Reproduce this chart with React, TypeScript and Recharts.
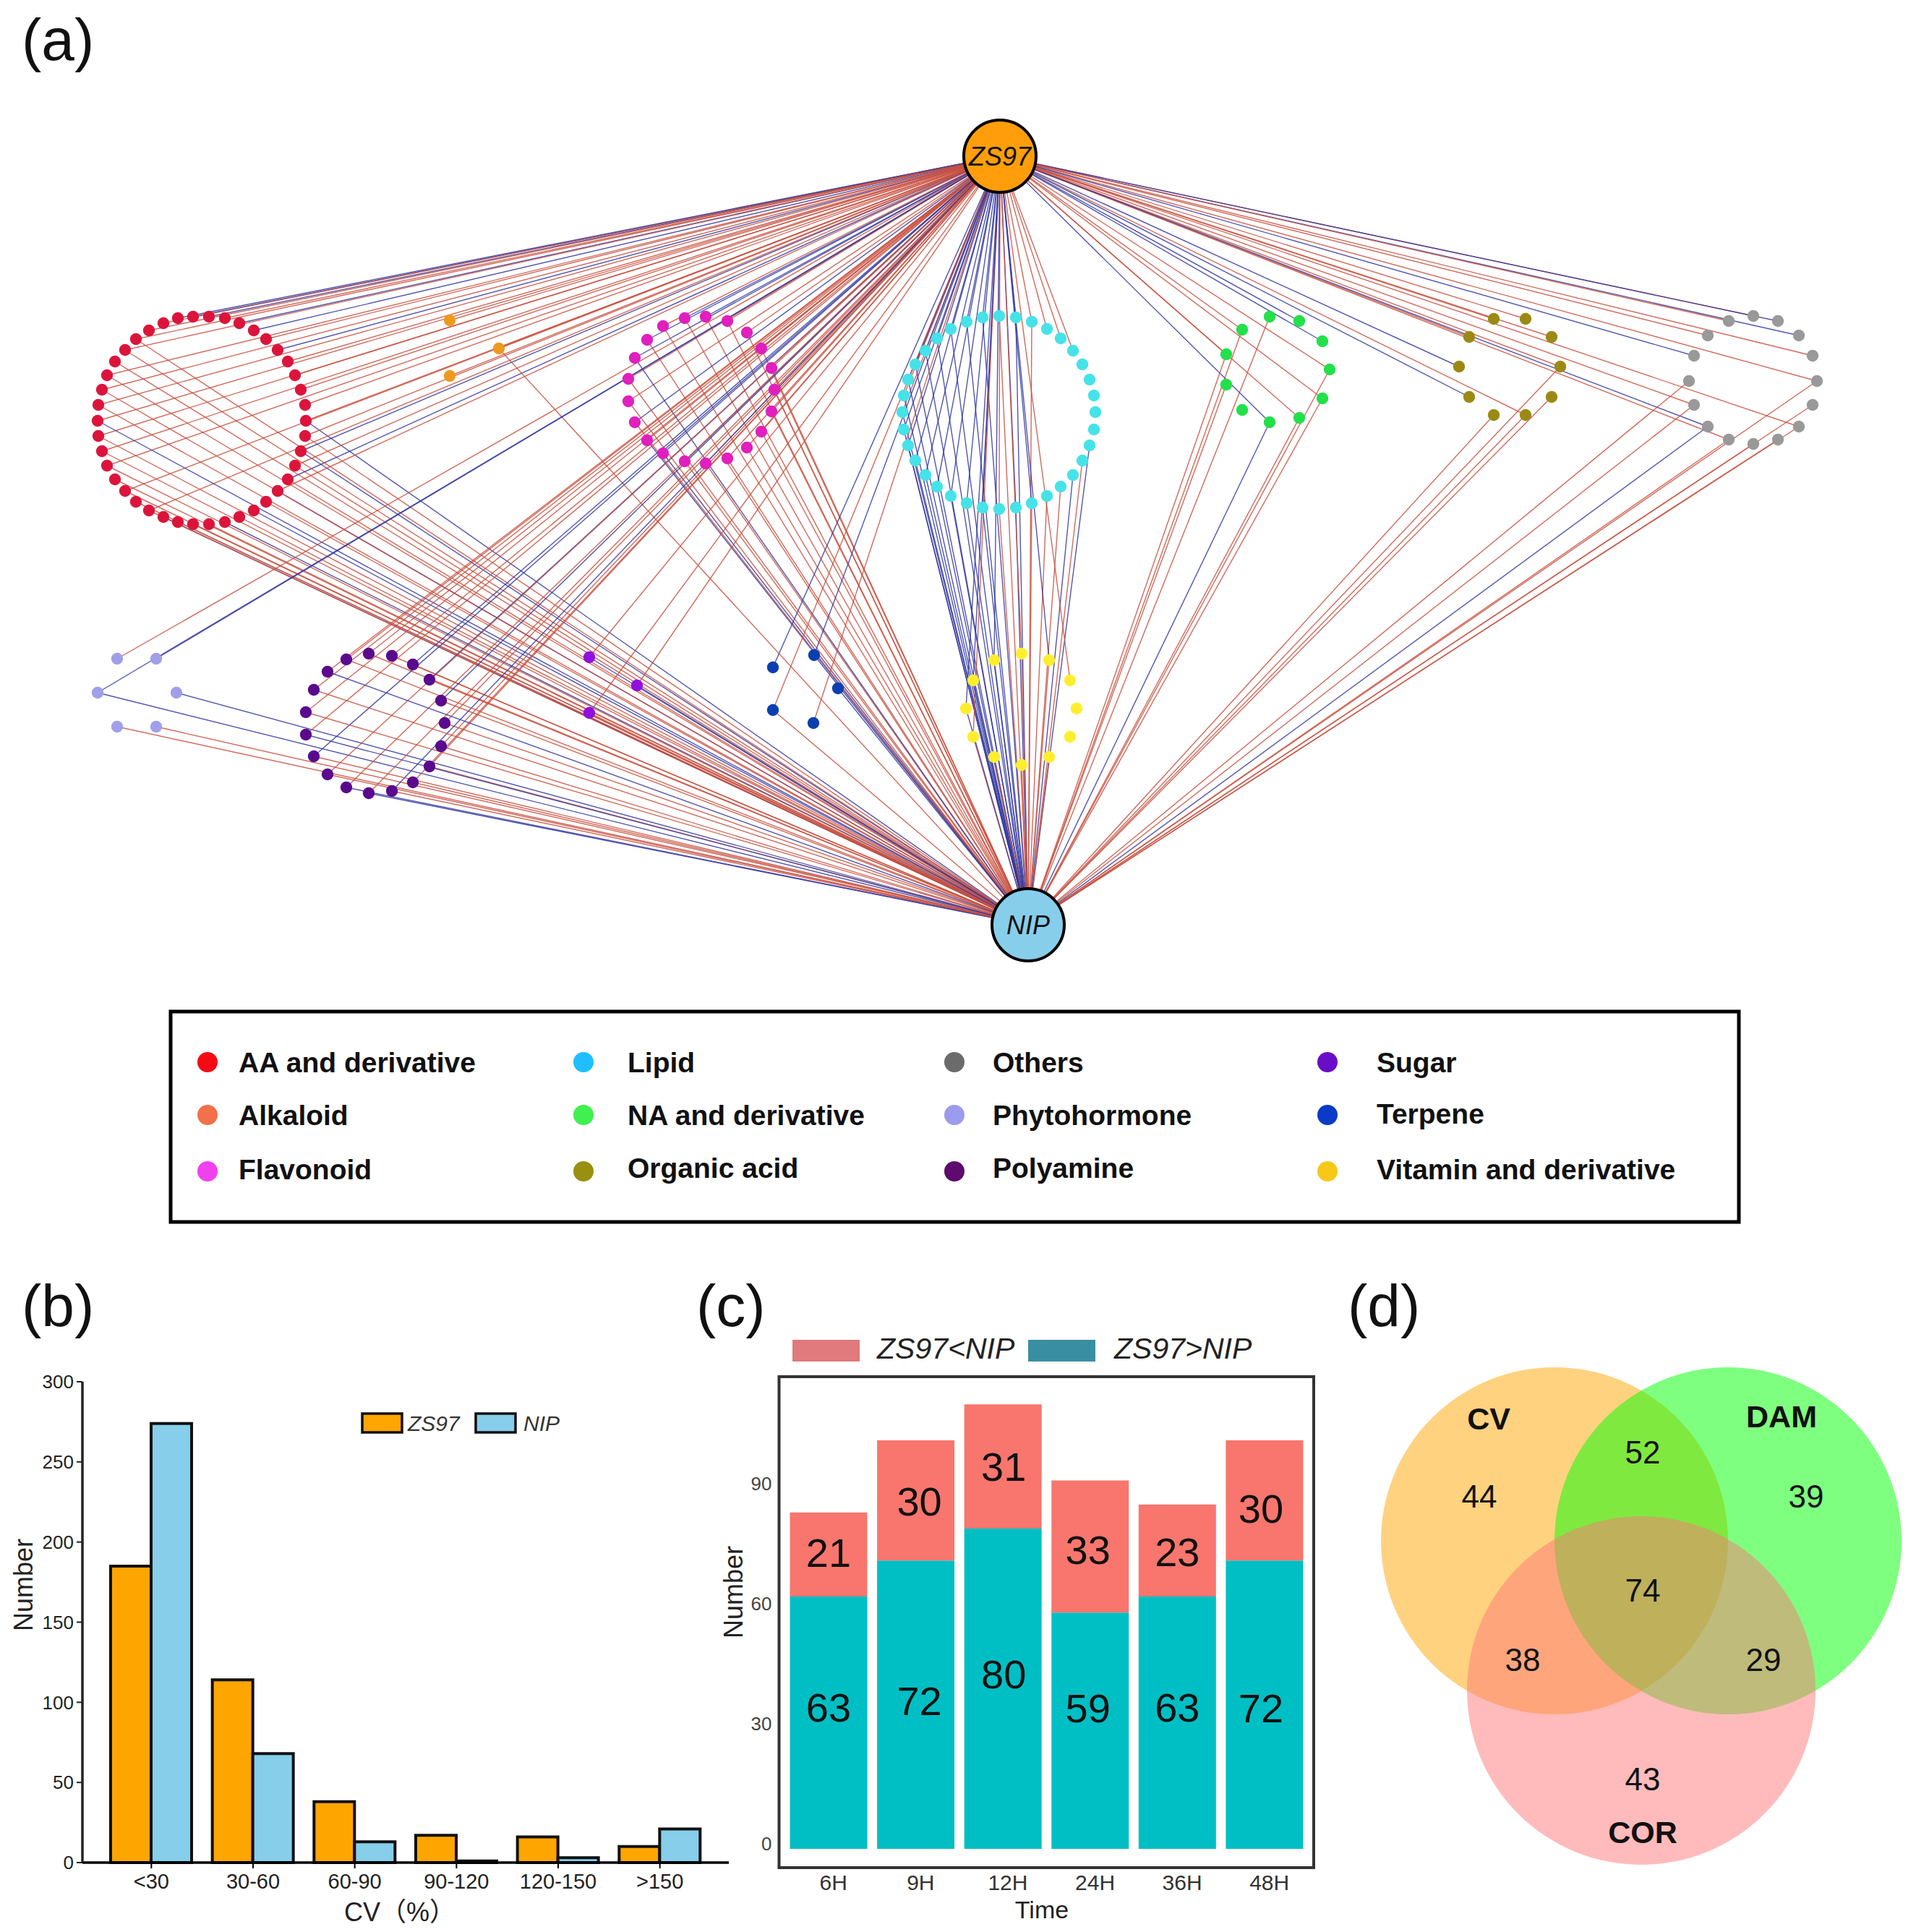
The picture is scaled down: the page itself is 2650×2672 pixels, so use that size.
import React from "react";
import {
  BarChart,
  Bar,
  XAxis,
  YAxis,
  ScatterChart,
  Scatter,
  LabelList,
} from "recharts";

// --- Panel (a): network, node positions ---

const ZS97_HUB = { x: 1383, y: 216, label: "ZS97", fill: "#FF9E0A" };
const NIP_HUB = { x: 1422, y: 1279, label: "NIP", fill: "#87CEEB" };

const AA_NODES = [
  [267, 438], [289, 438], [311, 440], [331, 447], [351, 457], [368, 469], [384, 484], [398, 500], [408, 519], [416, 539], [422, 560],
  [423, 582], [422, 603], [416, 624], [408, 644], [398, 663], [384, 679], [368, 694], [351, 706], [331, 715], [311, 722],
  [289, 725], [267, 725], [246, 722], [226, 715], [206, 706], [188, 694], [173, 679], [159, 663], [148, 644], [141, 624],
  [136, 603], [135, 582], [136, 560], [141, 539], [148, 519], [159, 500], [173, 484], [188, 469], [206, 457], [226, 447], [246, 440],
];
const AA_ZS = "bbrbbrbrrrrrrbrbr--------r-r-rrrrrrr-rrrrb";
const AA_NIP = "-----------brbrrbrbrbrrrbrrrrrrrbrrrrrr---";

const ALKALOID_NODES = [[622, 443], [690, 482], [622, 520]];
const ALKALOID_ZS = "rrr";
const ALKALOID_NIP = "-r-";

const FLAVONOID_NODES = [
  [947, 440], [976, 438], [1006, 444], [1033, 460], [1053, 482], [1067, 509], [1071, 539], [1067, 569], [1053, 597], [1033, 619], [1006, 634],
  [976, 641], [947, 638], [917, 627], [895, 609], [878, 584], [869, 555], [869, 524], [878, 495], [895, 470], [917, 451],
];
const FLAVONOID_ZS = "bbrrrrrrrrrrbbrbrrbbr";
const FLAVONOID_NIP = "rrrrrrrrrrrrrbbrrrbrr";

const LIPID_NODES = [
  [1382, 437], [1405, 439], [1427, 445], [1448, 455], [1467, 468], [1484, 485], [1497, 504], [1507, 525], [1513, 547], [1515, 570], [1513, 594], [1507, 616],
  [1497, 637], [1484, 657], [1467, 673], [1448, 686], [1427, 696], [1405, 702], [1382, 704], [1359, 702], [1337, 696], [1315, 686], [1296, 673], [1280, 657],
  [1266, 637], [1256, 616], [1250, 594], [1248, 570], [1250, 547], [1256, 525], [1266, 504], [1280, 485], [1296, 468], [1315, 455], [1337, 445], [1359, 439],
];
const LIPID_ZS = "rbrrrr----------bbrbbbbbbbbrrbbbbbbb";
const LIPID_NIP = "rbr--------brbrrrbrbbbbbbbbbbbbbbbbb";

const NA_NODES = [
  [1756, 438], [1797, 444], [1829, 472], [1839, 511], [1829, 551], [1797, 578], [1756, 584], [1718, 567], [1696, 532], [1696, 490], [1718, 456],
];
const NA_ZS = "-bbrrrb--rr";
const NA_NIP = "r--rrrb-rrr";

const ORGANIC_NODES = [
  [2066, 441], [2110, 441], [2146, 466], [2158, 507], [2146, 549], [2110, 574], [2066, 574], [2032, 549], [2018, 507], [2032, 466],
];
const ORGANIC_ZS = "rrrr-r-bbr";
const ORGANIC_NIP = "---rrrr---";

const OTHERS_NODES = [
  [2425, 437], [2459, 444], [2488, 464], [2507, 492], [2513, 527], [2507, 560], [2488, 590], [2459, 608],
  [2425, 614], [2391, 608], [2362, 590], [2343, 560], [2336, 527], [2343, 492], [2362, 464], [2391, 444],
];
const OTHERS_ZS = "rbbrr-r--rbr-brr";
const OTHERS_NIP = "----rrrrrrbrr---";

const PHYTO_NODES = [[162, 911], [216, 911], [135, 958], [244, 958], [162, 1005], [216, 1005]];
const PHYTO_ZS = "rbb---";
const PHYTO_NIP = "--bbrr";

const POLYAMINE_NODES = [
  [510, 904], [542, 907], [571, 919], [594, 940], [610, 969], [615, 1000], [610, 1032], [594, 1060], [571, 1082], [542, 1094],
  [510, 1097], [479, 1089], [453, 1071], [434, 1046], [423, 1016], [423, 985], [434, 954], [453, 929], [479, 912],
];
const POLYAMINE_ZS = "rrbbbrrrrbrrrbrrrrr";
const POLYAMINE_NIP = "rrrrrrrrrrbbrrbrrbr";

const SUGAR_NODES = [[815, 909], [881, 948], [815, 986]];
const SUGAR_ZS = "rrr";
const SUGAR_NIP = "bbr";

const TERPENE_NODES = [[1126, 906], [1159, 952], [1125, 1000], [1069, 982], [1069, 923]];
const TERPENE_ZS = "b-rrb";
const TERPENE_NIP = "bb-r-";

const VITAMIN_NODES = [
  [1413, 904], [1451, 913], [1480, 941], [1489, 980], [1480, 1019], [1451, 1047], [1413, 1058], [1375, 1047], [1346, 1019], [1336, 980], [1346, 941], [1375, 913],
];
const VITAMIN_ZS = "rbr-----rbbb";
const VITAMIN_NIP = "rr---rrrrbbb";

const GROUPS = [
  { nodes: AA_NODES, zs: AA_ZS, nip: AA_NIP, color: "#DC143C" },
  { nodes: ALKALOID_NODES, zs: ALKALOID_ZS, nip: ALKALOID_NIP, color: "#EE9A1E" },
  { nodes: FLAVONOID_NODES, zs: FLAVONOID_ZS, nip: FLAVONOID_NIP, color: "#E01FBE" },
  { nodes: LIPID_NODES, zs: LIPID_ZS, nip: LIPID_NIP, color: "#45E3E8" },
  { nodes: NA_NODES, zs: NA_ZS, nip: NA_NIP, color: "#22E04A" },
  { nodes: ORGANIC_NODES, zs: ORGANIC_ZS, nip: ORGANIC_NIP, color: "#9A8A14" },
  { nodes: OTHERS_NODES, zs: OTHERS_ZS, nip: OTHERS_NIP, color: "#999999" },
  { nodes: PHYTO_NODES, zs: PHYTO_ZS, nip: PHYTO_NIP, color: "#A0A0E8" },
  { nodes: POLYAMINE_NODES, zs: POLYAMINE_ZS, nip: POLYAMINE_NIP, color: "#5A0A8C" },
  { nodes: SUGAR_NODES, zs: SUGAR_ZS, nip: SUGAR_NIP, color: "#9010E0" },
  { nodes: TERPENE_NODES, zs: TERPENE_ZS, nip: TERPENE_NIP, color: "#0A3FB0" },
  { nodes: VITAMIN_NODES, zs: VITAMIN_ZS, nip: VITAMIN_NIP, color: "#FFEE2E" },
];

const EDGE_COLORS: Record<string, string> = { r: "#C8503F", b: "#34389F" };

// legend under the network, column by column
const LEGEND_LABELS = [
  "AA and derivative", "Alkaloid", "Flavonoid",
  "Lipid", "NA and derivative", "Organic acid",
  "Others", "Phytohormone", "Polyamine",
  "Sugar", "Terpene", "Vitamin and derivative",
];
const LEGEND_COLORS = [
  "#F50A14", "#F2704A", "#F040F0",
  "#1FBFFF", "#3FF04F", "#9A9010",
  "#6B6B6B", "#9C9CEE", "#5E0A6E",
  "#6A0DC8", "#0A3BC8", "#F8C818",
];

// --- Panel (b) ---

const CV_BINS = ["<30", "30-60", "60-90", "90-120", "120-150", ">150"];
const CV_ZS97 = [185, 114, 38, 17, 16, 10];
const CV_NIP = [274, 68, 13, 1, 3, 21];
const CV_TICKS = [0, 50, 100, 150, 200, 250, 300];

// --- Panel (c) ---

const TIMES = ["6H", "9H", "12H", "24H", "36H", "48H"];
const ZS_LESS = [21, 30, 31, 33, 23, 30];
const ZS_MORE = [63, 72, 80, 59, 63, 72];
const TIME_TICKS = [0, 30, 60, 90];
// the numbers in the picture sit off the segment centres
const LESS_LABEL_DY = [-2, 1, 0, 5, 2, 11];
const MORE_LABEL_DY = [-21, -5, -20, -31, -21, 5];
const LABEL_DX = [0, 5, 1, -3, 0, -5];

// --- Panel (d) ---

const VENN_CIRCLES = [
  { x: 2150, y: 2131, r: 240, fill: "#FFA500" },
  { x: 2390, y: 2131, r: 240, fill: "#00FF00" },
  { x: 2270, y: 2338, r: 241, fill: "#FF7777" },
];
const VENN_TITLES = [
  { x: 2059, y: 1962, text: "CV" },
  { x: 2464, y: 1959, text: "DAM" },
  { x: 2272, y: 2534, text: "COR" },
];
const VENN_COUNTS = [
  { x: 2046, y: 2069, text: "44" },
  { x: 2272, y: 2008, text: "52" },
  { x: 2498, y: 2069, text: "39" },
  { x: 2272, y: 2199, text: "74" },
  { x: 2106, y: 2295, text: "38" },
  { x: 2439, y: 2295, text: "29" },
  { x: 2272, y: 2460, text: "43" },
];

const cvData = CV_BINS.map((bin, i) => ({ bin, zs97: CV_ZS97[i], nip: CV_NIP[i] }));
const timeData = TIMES.map((time, i) => ({ time, less: ZS_LESS[i], more: ZS_MORE[i] }));

const edgeList = GROUPS.flatMap((g) =>
  g.nodes.flatMap(([x, y], i) => {
    const out: { color: string; points: { x: number; y: number }[] }[] = [];
    if (g.zs[i] !== "-") out.push({ color: EDGE_COLORS[g.zs[i]], points: [{ x: ZS97_HUB.x, y: ZS97_HUB.y }, { x, y }] });
    if (g.nip[i] !== "-") out.push({ color: EDGE_COLORS[g.nip[i]], points: [{ x: NIP_HUB.x, y: NIP_HUB.y }, { x, y }] });
    return out;
  })
);

const NoMark = () => <g />;

const NodeDot = (props: any) => <circle cx={props.cx} cy={props.cy} r={8.2} fill={props.fill} />;

const HubShape = (props: any) => (
  <g>
    <circle cx={props.cx} cy={props.cy} r={50} fill={props.payload.fill} stroke="#000" strokeWidth={4} />
    <text x={props.cx} y={props.cy} textAnchor="middle" dominantBaseline="central" fontSize={36} fontStyle="italic" fill="#111">
      {props.payload.label}
    </text>
  </g>
);

const VennCircle = (props: any) => (
  <circle cx={props.cx} cy={props.cy} r={props.payload.r} fill={props.payload.fill} fillOpacity={0.5} />
);

const VennText = (bold: boolean) => (props: any) => (
  <text
    x={props.cx}
    y={props.cy}
    textAnchor="middle"
    dominantBaseline="central"
    fontSize={bold ? 43 : 44}
    fontWeight={bold ? 700 : 400}
    fill="#111"
  >
    {props.payload.text}
  </text>
);

const BarNumber = (dyList: number[]) => (props: any) => (
  <text
    x={props.x + props.width / 2 + LABEL_DX[props.index]}
    y={props.y + props.height / 2 + dyList[props.index]}
    textAnchor="middle"
    dominantBaseline="central"
    fontSize={56}
    fill="#111"
  >
    {props.value}
  </text>
);

const TimeTick = (props: any) => (
  <text x={props.x + 7} y={props.y} textAnchor="middle" dominantBaseline="central" fontSize={30} fill="#333">
    {props.payload.value}
  </text>
);

// y labels of panel (c) stand a little above their gridline positions
const CountTick = (props: any) => (
  <text x={props.x} y={props.y - 7} textAnchor="end" dominantBaseline="central" fontSize={26} fill="#444">
    {props.payload.value}
  </text>
);

const PANEL_LABELS = [
  { x: 30, y: 83, text: "(a)" },
  { x: 30, y: 1834, text: "(b)" },
  { x: 963, y: 1834, text: "(c)" },
  { x: 1864, y: 1834, text: "(d)" },
];

const LEGEND_DOT_X = [287, 807, 1320, 1836];
const LEGEND_TEXT_X = [330, 868, 1373, 1904];
const LEGEND_ROW_Y = [1469, 1542, 1620];
const LEGEND_TEXT_Y = [
  [1469, 1542, 1617],
  [1469, 1542, 1615],
  [1469, 1542, 1615],
  [1469, 1540, 1617],
];

function Overlay() {
  return (
    <svg width={2650} height={2672} style={{ position: "absolute", left: 0, top: 0, pointerEvents: "none" }}>
      {PANEL_LABELS.map((p) => (
        <text key={p.text} x={p.x} y={p.y} fontSize={82} fill="#111">
          {p.text}
        </text>
      ))}

      {/* legend of panel (a) */}
      <rect x={236} y={1399} width={2169} height={291} fill="none" stroke="#000" strokeWidth={5} />
      {LEGEND_LABELS.map((label, i) => {
        const col = Math.floor(i / 3);
        const row = i % 3;
        return (
          <g key={label}>
            <circle cx={LEGEND_DOT_X[col]} cy={LEGEND_ROW_Y[row]} r={14} fill={LEGEND_COLORS[i]} />
            <text x={LEGEND_TEXT_X[col]} y={LEGEND_TEXT_Y[col][row]} dominantBaseline="central" fontSize={39} fontWeight={700} fill="#111">
              {label}
            </text>
          </g>
        );
      })}

      {/* panel (b) titles and legend */}
      <text transform="translate(32 2192) rotate(-90)" textAnchor="middle" dominantBaseline="central" fontSize={36} fill="#222">
        Number
      </text>
      <text x={553} y={2644} textAnchor="middle" dominantBaseline="central" fontSize={36} fill="#222" style={{ fontFamily: '"Liberation Sans","Noto Sans CJK SC"' }}>
        CV（%）
      </text>
      <rect x={501} y={1955} width={55} height={26} fill="#FFA500" stroke="#111" strokeWidth={3.5} />
      <text x={564} y={1968} dominantBaseline="central" fontSize={30} fontStyle="italic" fill="#333">ZS97</text>
      <rect x={658} y={1955} width={55} height={26} fill="#87CEEB" stroke="#111" strokeWidth={3.5} />
      <text x={724} y={1968} dominantBaseline="central" fontSize={30} fontStyle="italic" fill="#333">NIP</text>

      {/* panel (c) frame, titles and legend */}
      <rect x={1077.5} y={1904} width={739.5} height={679} fill="none" stroke="#333" strokeWidth={4} />
      <text transform="translate(1014 2202) rotate(-90)" textAnchor="middle" dominantBaseline="central" fontSize={36} fill="#222">
        Number
      </text>
      <text x={1441} y={2641} textAnchor="middle" dominantBaseline="central" fontSize={34} fill="#222">Time</text>
      <rect x={1096} y={1853} width={93} height={30} fill="#E07A7C" />
      <text x={1213} y={1879} fontSize={41} fontStyle="italic" fill="#222">ZS97&lt;NIP</text>
      <rect x={1422} y={1853} width={93} height={30} fill="#3A8EA2" />
      <text x={1541} y={1879} fontSize={41} fontStyle="italic" fill="#222">ZS97&gt;NIP</text>
    </svg>
  );
}

export default function App() {
  return (
    <div style={{ position: "absolute", left: 0, top: 0, width: 2650, height: 2672, background: "#fff", fontFamily: '"Liberation Sans", Arial, sans-serif' }}>
      {/* Panel (a) */}
      <div style={{ position: "absolute", left: 0, top: 0 }}>
        <ScatterChart width={2650} height={1390} margin={{ top: 0, right: 0, bottom: 0, left: 0 }}>
          <XAxis type="number" dataKey="x" domain={[0, 2650]} hide />
          <YAxis type="number" dataKey="y" domain={[0, 1390]} reversed hide />
          {edgeList.map((e, i) => (
            <Scatter
              key={"edge" + i}
              data={e.points}
              line={{ stroke: e.color, strokeWidth: 1.4, strokeOpacity: 0.85 }}
              shape={NoMark}
              isAnimationActive={false}
            />
          ))}
          {GROUPS.map((g, i) => (
            <Scatter
              key={"group" + i}
              data={g.nodes.map(([x, y]) => ({ x, y }))}
              fill={g.color}
              shape={NodeDot}
              isAnimationActive={false}
            />
          ))}
          <Scatter data={[ZS97_HUB, NIP_HUB]} shape={HubShape} isAnimationActive={false} />
        </ScatterChart>
      </div>

      {/* Panel (b) */}
      <div style={{ position: "absolute", left: 0, top: 1880 }}>
        <BarChart
          width={1030}
          height={792}
          data={cvData}
          margin={{ top: 31, right: 22, bottom: 36, left: 44 }}
          barCategoryGap={14}
          barGap={0}
        >
          <XAxis
            dataKey="bin"
            height={60}
            padding={{ left: 25, right: 25 }}
            interval={0}
            axisLine={{ stroke: "#000", strokeWidth: 3.5 }}
            tickLine={{ stroke: "#000", strokeWidth: 2 }}
            tickSize={8}
            tickMargin={7}
            tick={{ fontSize: 29, fill: "#222" }}
          />
          <YAxis
            type="number"
            domain={[0, 300]}
            ticks={CV_TICKS}
            width={70}
            axisLine={{ stroke: "#222", strokeWidth: 3.5 }}
            tickLine={{ stroke: "#222", strokeWidth: 2 }}
            tickSize={8}
            tickMargin={4}
            tick={{ fontSize: 26, fill: "#222" }}
          />
          <Bar dataKey="zs97" fill="#FFA500" stroke="#111" strokeWidth={4} isAnimationActive={false} />
          <Bar dataKey="nip" fill="#87CEEB" stroke="#111" strokeWidth={4} isAnimationActive={false} />
        </BarChart>
      </div>

      {/* Panel (c) */}
      <div style={{ position: "absolute", left: 1000, top: 1880 }}>
        <BarChart
          width={840}
          height={792}
          data={timeData}
          margin={{ top: 24, right: 23, bottom: 29, left: 17.5 }}
          barCategoryGap={7}
        >
          <XAxis
            dataKey="time"
            height={60}
            padding={{ left: 8, right: 8 }}
            interval={0}
            axisLine={false}
            tickLine={false}
            tickSize={0}
            tickMargin={20}
            tick={TimeTick}
          />
          <YAxis
            type="number"
            domain={[-4.7, 117.9]}
            ticks={TIME_TICKS}
            allowDataOverflow
            width={60}
            axisLine={false}
            tickLine={false}
            tickSize={0}
            tickMargin={10}
            tick={CountTick}
          />
          <Bar dataKey="more" stackId="t" fill="#00BFC4" isAnimationActive={false}>
            <LabelList dataKey="more" content={BarNumber(MORE_LABEL_DY)} />
          </Bar>
          <Bar dataKey="less" stackId="t" fill="#F8766D" isAnimationActive={false}>
            <LabelList dataKey="less" content={BarNumber(LESS_LABEL_DY)} />
          </Bar>
        </BarChart>
      </div>

      {/* Panel (d) */}
      <div style={{ position: "absolute", left: 1860, top: 1860 }}>
        <ScatterChart width={790} height={760} margin={{ top: 0, right: 0, bottom: 0, left: 0 }}>
          <XAxis type="number" dataKey="x" domain={[1860, 2650]} hide />
          <YAxis type="number" dataKey="y" domain={[1860, 2620]} reversed hide />
          <Scatter data={VENN_CIRCLES} shape={VennCircle} isAnimationActive={false} />
          <Scatter data={VENN_TITLES} shape={VennText(true)} isAnimationActive={false} />
          <Scatter data={VENN_COUNTS} shape={VennText(false)} isAnimationActive={false} />
        </ScatterChart>
      </div>

      <Overlay />
    </div>
  );
}
